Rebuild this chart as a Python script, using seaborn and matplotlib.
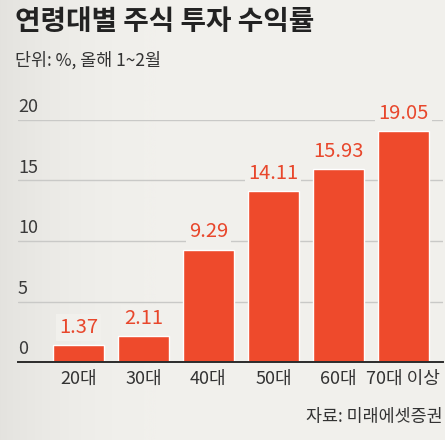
import numpy as np
import pandas as pd
import matplotlib
matplotlib.use("Agg")
import matplotlib.pyplot as plt
import seaborn as sns
from matplotlib import font_manager as fm

categories = ["20대", "30대", "40대", "50대", "60대", "70대 이상"]
values = [1.37, 2.11, 9.29, 14.11, 15.93, 19.05]
value_labels = ["1.37", "2.11", "9.29", "14.11", "15.93", "19.05"]
yticks = [0, 5, 10, 15, 20]

title = "연령대별 주식 투자 수익률"
subtitle = "단위: %, 올해 1~2월"
source = "자료: 미래에셋증권"

BG = "#f1f0ec"
BAR = "#ee4a2c"
LBL = "#e8472c"

sns.set_style("white")
KR = "Noto Sans CJK KR"
names = {f.name for f in fm.fontManager.ttflist}
NARROW = "Liberation Sans Narrow" if "Liberation Sans Narrow" in names else KR
plt.rcParams["font.family"] = [KR, "DejaVu Sans"]

df = pd.DataFrame({"cat": categories, "val": values})

fig = plt.figure(figsize=(4.45, 4.40), dpi=100, facecolor=BG)

# subtle grey haze on the left side of the background
grad = np.linspace(1, 0, 200)[None, :] ** 2
bgax = fig.add_axes([0, 0, 0.35, 1], zorder=-10)
bgax.imshow(np.tile(grad, (50, 1)), cmap=matplotlib.colors.LinearSegmentedColormap.from_list(
    "h", [BG, "#dcdbd7"]), aspect="auto", extent=[0, 1, 0, 1], vmin=0, vmax=1.6)
bgax.axis("off")

ax = fig.add_axes([18 / 445, 78 / 440, 425 / 445, 242 / 440])
ax.set_facecolor("none")

sns.barplot(data=df, x="cat", y="val", color=BAR, width=0.785, saturation=1,
            ax=ax, zorder=3)

ax.set_xlim(-0.93, 5.61)
ax.set_ylim(0, 20)

for s in ["top", "right", "left"]:
    ax.spines[s].set_visible(False)
ax.spines["bottom"].set_color("#2b2b2b")
ax.spines["bottom"].set_linewidth(1.4)
ax.spines["bottom"].set_zorder(5)

ax.set_yticks([])
for t in yticks:
    if t > 0:
        ax.axhline(t, color="#c9c9c7", lw=1.0, zorder=1)
    ax.text(0.0, t + 0.3, str(t), transform=ax.get_yaxis_transform(),
            ha="left", va="bottom", fontsize=13, color="#3a3a3a",
            fontweight="light", family=[KR, "DejaVu Sans"])

ax.set_xlabel("")
ax.set_ylabel("")
ax.tick_params(axis="x", length=0, pad=6, labelsize=13, labelcolor="#333333")
for lab in ax.get_xticklabels():
    lab.set_family([KR, "DejaVu Sans"])

for i, (v, lbl) in enumerate(zip(values, value_labels)):
    ax.text(i, v + 0.6, lbl, ha="center", va="bottom", fontsize=14.5,
            color=LBL, family=[NARROW, KR], fontweight="light", zorder=4,
            clip_on=False,
            bbox=dict(boxstyle="square,pad=0.15", fc=BG, ec="none"))

fig.text(15 / 445, 1 - 22 / 440, title, ha="left", va="center",
         fontsize=20, fontweight="bold", color="#222222")
fig.text(15 / 445, 1 - 60 / 440, subtitle, ha="left", va="center",
         fontsize=12.5, color="#333333")
fig.text(443 / 445, 1 - 417 / 440, source, ha="right", va="center",
         fontsize=12.5, color="#333333")

fig.savefig("out.png", dpi=100, facecolor=BG)
